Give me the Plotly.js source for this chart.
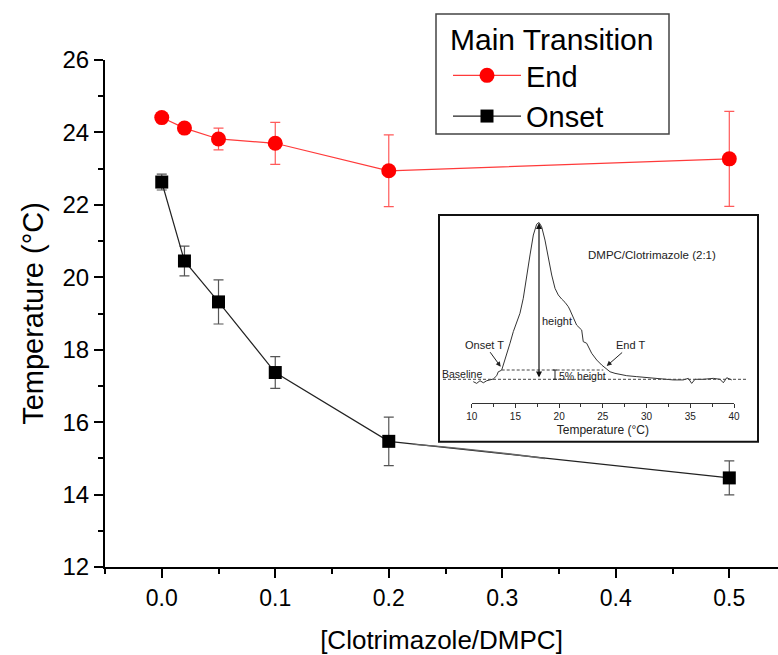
<!DOCTYPE html>
<html>
<head>
<meta charset="utf-8">
<script src="https://cdn.plot.ly/plotly-3.0.1.min.js"></script>
<style>html,body{margin:0;padding:0;background:#fff;}#chart{width:778px;height:655px;}</style>
</head>
<body>
<div id="chart"></div>
<script>
// ---- Main data ----
const ratio = [0.0, 0.02, 0.05, 0.1, 0.2, 0.5];
const endT = [24.41, 24.12, 23.82, 23.70, 22.94, 23.27];
const endErr = [0.10, 0.10, 0.30, 0.58, 0.99, 1.31];
const onsetT = [22.63, 20.45, 19.32, 17.37, 15.47, 14.46];
const onsetErr = [0.22, 0.41, 0.61, 0.44, 0.67, 0.47];

// ---- Inset DSC thermogram ----
const dscT = [10.18,10.57,10.95,11.33,11.72,12.09,12.47,12.86,13.04,13.24,13.43,13.61,14.0,14.38,14.76,15.15,15.52,15.9,16.29,16.67,17.05,17.43,17.7,18.0,18.38,18.76,19.15,19.53,19.9,20.29,20.67,21.05,21.24,22.0,22.58,22.76,23.15,23.72,24.3,24.87,25.44,25.82,26.39,26.96,27.73,28.87,30.02,31.53,33.06,34.2,34.77,35.16,35.54,36.49,37.63,38.4,38.78,39.17,39.74];
const dscH = [-1.5,-2.6,-0.9,-2.2,-0.9,-0.4,0.2,2.3,4.8,5.3,5.9,9.1,15.5,23,30.4,36.7,42.1,51.7,64.4,79.3,92,98.9,100,97.3,88.8,77.2,66.5,58,53.8,51.2,49.1,46.3,44.2,34.6,31.4,24,23,16.6,12.3,9.1,6.4,4.8,3.8,3.2,2.3,1.7,1.0,0.4,-0.4,-0.4,0.6,-2.6,0,0,0.6,0,-2.2,1.0,-0.4];
const insetTicks = [10, 15, 20, 25, 30, 35, 40];

// pixel -> paper helpers for decorations
const L = 105, T = 60, W = 673, H = 507;
const px = x => (x - L) / W;
const py = y => (T + H - y) / H;

const font = 'Liberation Sans, Arial, sans-serif';

const traces = [
  {
    x: ratio, y: endT, name: 'End', type: 'scatter', mode: 'lines+markers',
    line: {color: '#ff3a3a', width: 1.2},
    marker: {symbol: 'circle', size: 15, color: '#ff0000'},
    error_y: {type: 'data', array: endErr, visible: true, color: '#ff5a5a', thickness: 1.2, width: 5}
  },
  {
    x: ratio, y: onsetT, name: 'Onset', type: 'scatter', mode: 'lines+markers',
    line: {color: '#222222', width: 1.2},
    marker: {symbol: 'square', size: 13, color: '#000000'},
    error_y: {type: 'data', array: onsetErr, visible: true, color: '#555555', thickness: 1.2, width: 5}
  },
  {
    x: dscT, y: dscH, xaxis: 'x2', yaxis: 'y2', type: 'scatter', mode: 'lines',
    line: {color: '#333333', width: 1}, showlegend: false, hoverinfo: 'skip'
  }
];

const ann = (x, y, text, size) => ({xref: 'paper', yref: 'paper', x: px(x), y: py(y), text: text,
  showarrow: false, xanchor: 'center', yanchor: 'middle', font: {family: font, size: size, color: '#222222'}});

const layout = {
  width: 778, height: 655,
  margin: {l: L, r: 0, t: T, b: 655 - T - H, pad: 0},
  paper_bgcolor: '#ffffff', plot_bgcolor: '#ffffff',
  font: {family: font, color: '#000000'},
  showlegend: true,
  legend: {
    x: px(448), y: py(11), xanchor: 'left', yanchor: 'top',
    borderwidth: 0, bgcolor: 'rgba(0,0,0,0)',
    font: {family: font, size: 29, color: '#000000'},
    title: {text: 'Main Transition', font: {family: font, size: 30, color: '#000000'}},
    itemwidth: 68, tracegroupgap: 0
  },
  xaxis: {
    range: [-0.05, 0.5429], showline: true, linewidth: 2, linecolor: '#000000',
    ticks: 'outside', ticklen: 9, tickwidth: 2, tickcolor: '#000000',
    tick0: 0, dtick: 0.1, tickformat: '.1f',
    minor: {dtick: 0.05, ticks: 'outside', ticklen: 5, tickwidth: 2, tickcolor: '#000000', showgrid: false},
    showgrid: false, zeroline: false,
    tickfont: {family: font, size: 23, color: '#000000'},
    title: {text: '[Clotrimazole/DMPC]', font: {family: font, size: 26, color: '#000000'}, standoff: 21}
  },
  yaxis: {
    range: [12, 26], showline: true, linewidth: 2, linecolor: '#000000',
    ticks: 'outside', ticklen: 9, tickwidth: 2, tickcolor: '#000000',
    tick0: 12, dtick: 2,
    minor: {dtick: 1, ticks: 'outside', ticklen: 5, tickwidth: 2, tickcolor: '#000000', showgrid: false},
    showgrid: false, zeroline: false,
    tickfont: {family: font, size: 24, color: '#000000'},
    title: {text: 'Temperature (°C)', font: {family: font, size: 29, color: '#000000'}, standoff: 10}
  },
  xaxis2: {
    domain: [px(471.7), px(734)], anchor: 'y2', range: [10, 40],
    showline: true, linewidth: 1, linecolor: '#333333',
    ticks: 'outside', ticklen: 4, tickwidth: 1, tickcolor: '#333333',
    tickvals: insetTicks,
    minor: {dtick: 2.5, ticks: 'outside', ticklen: 2.5, tickwidth: 1, tickcolor: '#333333', showgrid: false},
    showgrid: false, zeroline: false,
    tickfont: {family: font, size: 10, color: '#222222'},
    title: {text: 'Temperature (°C)', font: {family: font, size: 12, color: '#222222'}, standoff: 4}
  },
  yaxis2: {
    domain: [py(403.3), py(217)], anchor: 'x2', range: [-15.3, 103.5], visible: false
  },
  shapes: [
    // legend frame
    {type: 'rect', xref: 'paper', yref: 'paper', x0: px(436), x1: px(669), y0: py(134), y1: py(14),
     line: {color: '#444444', width: 1.5}},
    // inset frame
    {type: 'rect', xref: 'paper', yref: 'paper', x0: px(439), x1: px(758), y0: py(441.7), y1: py(215),
     line: {color: '#111111', width: 2}},
    // baseline dashed
    {type: 'line', xref: 'paper', yref: 'paper', x0: px(443), x1: px(746.7), y0: py(379.3), y1: py(379.3),
     line: {color: '#444444', width: 1, dash: '3px,2px'}},
    // 5% height dashed
    {type: 'line', xref: 'paper', yref: 'paper', x0: px(501.7), x1: px(603.3), y0: py(370), y1: py(370),
     line: {color: '#444444', width: 1, dash: '3px,2px'}},
    // 5% I-bar
    {type: 'line', xref: 'paper', yref: 'paper', x0: px(555), x1: px(555), y0: py(370), y1: py(379.3),
     line: {color: '#222222', width: 1}},
    {type: 'line', xref: 'paper', yref: 'paper', x0: px(553), x1: px(557), y0: py(370), y1: py(370),
     line: {color: '#222222', width: 1}},
    {type: 'line', xref: 'paper', yref: 'paper', x0: px(553), x1: px(557), y0: py(379.3), y1: py(379.3),
     line: {color: '#222222', width: 1}},
    // page-curl shadow line under inset
    {type: 'path', xref: 'paper', yref: 'paper',
     path: 'M' + px(414) + ',' + py(444.3) + ' Q' + px(470) + ',' + py(448.5) + ' ' + px(545) + ',' + py(458.5),
     line: {color: '#666666', width: 1.3}}
  ],
  annotations: [
    ann(651.7, 255, 'DMPC/Clotrimazole (2:1)', 11.5),
    ann(557, 321, 'height', 11),
    ann(462, 374.3, 'Baseline', 10.5),
    ann(582, 375.7, '5% height', 10.5),
    // Onset T with arrow
    {xref: 'paper', yref: 'paper', x: px(500.7), y: py(366.7), ax: -16, ay: -22, text: 'Onset T',
     showarrow: true, arrowhead: 2, arrowsize: 1, arrowwidth: 1, arrowcolor: '#222222',
     font: {family: font, size: 11, color: '#222222'}},
    // End T with arrow
    {xref: 'paper', yref: 'paper', x: px(606.7), y: py(366), ax: 24, ay: -21, text: 'End T',
     showarrow: true, arrowhead: 2, arrowsize: 1, arrowwidth: 1, arrowcolor: '#222222',
     font: {family: font, size: 11, color: '#222222'}},
    // height double arrow
    {xref: 'paper', yref: 'paper', x: px(539), y: py(223), ax: 0, ay: 156, text: '',
     showarrow: true, arrowhead: 2, startarrowhead: 2, arrowside: 'end+start', arrowsize: 1, arrowwidth: 1.2,
     arrowcolor: '#111111'}
  ]
};

Plotly.newPlot('chart', traces, layout, {staticPlot: true, displayModeBar: false});
</script>
</body>
</html>
